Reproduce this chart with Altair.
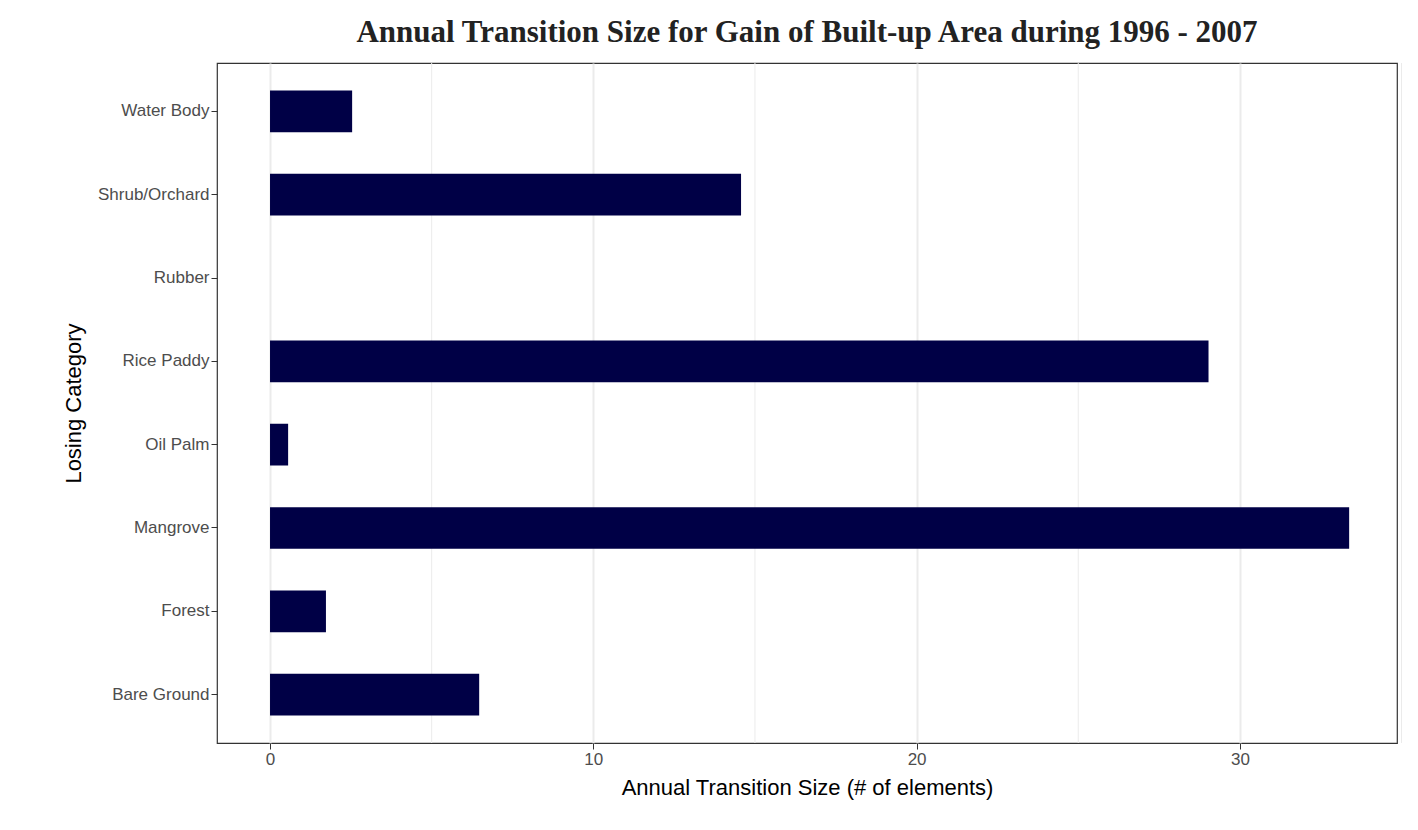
import altair as alt
import pandas as pd

categories = ["Water Body", "Shrub/Orchard", "Rubber", "Rice Paddy",
              "Oil Palm", "Mangrove", "Forest", "Bare Ground"]
values = [2.54, 14.57, 0.0, 29.03, 0.56, 33.38, 1.73, 6.47]
minor_ticks = [5, 15, 25, 35]

df = pd.DataFrame({"cat": categories, "val": values})
minor = pd.DataFrame({"m": minor_ticks})

xscale = alt.Scale(domain=[-1.64, 34.86], nice=False, zero=False)

grid_minor = alt.Chart(minor).mark_rule(color="#ebebeb", strokeWidth=1).encode(
    x=alt.X("m:Q", scale=xscale)
)

bars = alt.Chart(df).mark_bar(color="#000046").encode(
    x=alt.X("val:Q", scale=xscale,
            axis=alt.Axis(values=[0, 10, 20, 30], format="d",
                          title="Annual Transition Size (# of elements)",
                          titleFontSize=22, titleFont="Liberation Sans",
                          titleFontWeight="normal", titleColor="black",
                          labelFontSize=17, labelColor="#4d4d4d",
                          labelFont="Liberation Sans", tickColor="#333333",
                          tickSize=6, domain=False, gridColor="#ebebeb",
                          gridWidth=2, titlePadding=10)),
    y=alt.Y("cat:N", sort=categories,
            scale=alt.Scale(paddingInner=0.5, paddingOuter=0.33),
            axis=alt.Axis(title="Losing Category", titleFontSize=22,
                          titleFont="Liberation Sans", titleFontWeight="normal",
                          titleColor="black", labelFontSize=17,
                          labelColor="#4d4d4d", labelFont="Liberation Sans",
                          tickColor="#333333", tickSize=6, domain=False,
                          bandPosition=0.5, gridColor="#ebebeb", gridWidth=2,
                          titlePadding=12)),
)

chart = alt.layer(grid_minor, bars).properties(
    width=1180, height=680,
    autosize=alt.AutoSizeParams(type="none"),
    padding={"left": 209, "top": 55, "right": 10, "bottom": 80},
    title=alt.Title("Annual Transition Size for Gain of  Built-up Area during 1996 - 2007",
                    font="Liberation Serif", fontSize=31, fontWeight="bold",
                    color="#222222", anchor="middle", offset=14),
).configure_view(stroke="#333333", strokeWidth=1.2)

chart.save("out.html", embed_options={"renderer": "svg", "actions": False})
